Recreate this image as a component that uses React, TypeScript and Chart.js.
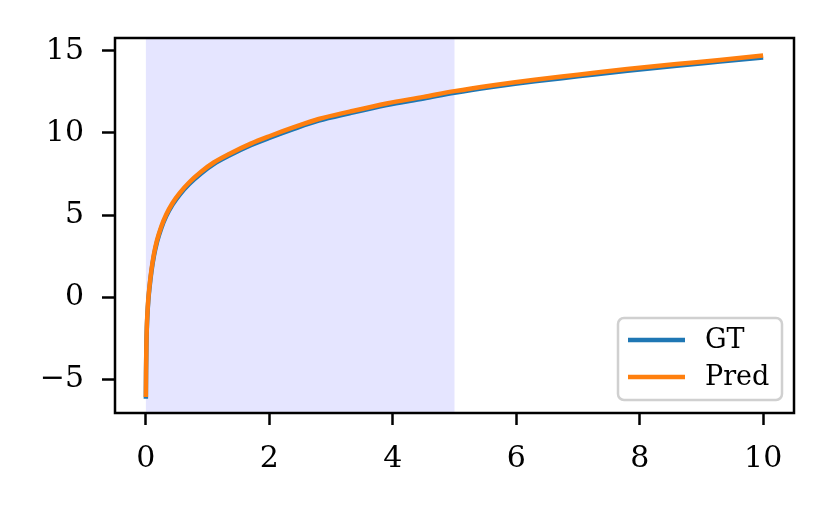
import React, { useEffect, useRef } from "react";
import { Chart, registerables } from "chart.js";

Chart.register(...registerables);

const seriesNames = ["GT", "Pred"];
const seriesColors = ["#1f77b4", "#ff7f0e"];

const xValues = [
  0, 0.003, 0.008, 0.015, 0.025, 0.04, 0.06, 0.09, 0.13, 0.18, 0.25, 0.33, 0.43,
  0.55, 0.7, 0.9, 1.1, 1.35, 1.7, 2.0, 2.4, 2.8, 3.3, 3.9, 4.5, 5.0, 5.6, 6.3,
  7.0, 7.8, 8.6, 9.3, 10.0,
];
const gtValues = [
  -6.2, -4.6, -3.1, -2.0, -1.1, -0.2, 0.6, 1.55, 2.5, 3.35, 4.2, 4.93, 5.62, 6.25,
  6.88, 7.55, 8.1, 8.62, 9.25, 9.7, 10.25, 10.75, 11.2, 11.7, 12.1, 12.45, 12.8,
  13.15, 13.45, 13.8, 14.1, 14.35, 14.6,
];
const predValues = [
  -6.1, -4.5, -3.0, -1.9, -1.0, -0.1, 0.7, 1.65, 2.6, 3.45, 4.3, 5.03, 5.72, 6.35,
  6.98, 7.65, 8.2, 8.72, 9.35, 9.8, 10.35, 10.85, 11.3, 11.8, 12.2, 12.55, 12.9,
  13.25, 13.55, 13.9, 14.2, 14.45, 14.72,
];

const xTicks = [0, 2, 4, 6, 8, 10];
const yTicks = [-5, 0, 5, 10, 15];
const shadeRange = [0, 5];

const FONT = "'DejaVu Serif', serif";

const fmt = (v: number) => (v < 0 ? "\u2212" + Math.abs(v) : String(v));

const decorPlugin = {
  id: "decor",
  beforeDatasetsDraw(chart: any) {
    const { ctx, chartArea, scales } = chart;
    const x0 = scales.x.getPixelForValue(shadeRange[0]);
    const x1 = scales.x.getPixelForValue(shadeRange[1]);
    ctx.save();
    ctx.fillStyle = "rgba(0,0,255,0.1)";
    ctx.fillRect(x0, chartArea.top, x1 - x0, chartArea.bottom - chartArea.top);
    ctx.restore();
  },
  afterDatasetsDraw(chart: any) {
    const { ctx, chartArea } = chart;
    ctx.save();
    ctx.strokeStyle = "#000";
    ctx.lineWidth = 2.5;
    ctx.strokeRect(
      chartArea.left,
      chartArea.top,
      chartArea.right - chartArea.left,
      chartArea.bottom - chartArea.top
    );
    ctx.restore();
  },
  afterDraw(chart: any) {
    const { ctx, chartArea } = chart;
    const w = 164;
    const h = 82;
    const bx = chartArea.right - 12 - w;
    const by = chartArea.bottom - 13 - h;
    ctx.save();
    ctx.beginPath();
    ctx.roundRect(bx, by, w, h, 6);
    ctx.fillStyle = "rgba(255,255,255,0.8)";
    ctx.fill();
    ctx.strokeStyle = "#d0d0d0";
    ctx.lineWidth = 2.5;
    ctx.stroke();
    ctx.font = `27px ${FONT}`;
    ctx.textBaseline = "middle";
    ctx.textAlign = "left";
    seriesNames.forEach((name, i) => {
      const y = by + 22 + i * 37;
      ctx.beginPath();
      ctx.moveTo(bx + 10, y);
      ctx.lineTo(bx + 67, y);
      ctx.strokeStyle = seriesColors[i];
      ctx.lineWidth = 4.5;
      ctx.stroke();
      ctx.fillStyle = "#000";
      ctx.fillText(name, bx + 87, y + 1);
    });
    ctx.restore();
  },
};

export default function App() {
  const ref = useRef<HTMLCanvasElement>(null);
  useEffect(() => {
    if (!ref.current) return;
    const chart = new Chart(ref.current, {
      type: "line",
      data: {
        datasets: [
          {
            label: seriesNames[0],
            data: xValues.map((x, i) => ({ x, y: gtValues[i] })),
            borderColor: seriesColors[0],
            borderWidth: 4.5,
            pointRadius: 0,
            fill: false,
            order: 2,
            cubicInterpolationMode: "monotone",
          },
          {
            label: seriesNames[1],
            data: xValues.map((x, i) => ({ x, y: predValues[i] })),
            borderColor: seriesColors[1],
            borderWidth: 4.5,
            pointRadius: 0,
            fill: false,
            order: 1,
            cubicInterpolationMode: "monotone",
          },
        ],
      },
      options: {
        responsive: false,
        animation: false,
        devicePixelRatio: 1,
        layout: { padding: { left: 0, right: 37, top: 38, bottom: 0 } },
        plugins: { legend: { display: false }, tooltip: { enabled: false } },
        scales: {
          x: {
            type: "linear",
            min: -0.5,
            max: 10.5,
            afterBuildTicks: (s: any) => {
              s.ticks = xTicks.map((v) => ({ value: v }));
            },
            afterFit: (s: any) => {
              s.height = 101;
            },
            grid: {
              drawOnChartArea: false,
              drawTicks: true,
              tickLength: 12,
              tickWidth: 2.5,
              tickColor: "#000",
            },
            border: { display: false },
            ticks: {
              color: "#000",
              font: { family: FONT, size: 30 },
              padding: 16,
              maxRotation: 0,
              callback: (v: any) => fmt(Number(v)),
            },
          },
          y: {
            type: "linear",
            min: -7.07,
            max: 15.79,
            afterBuildTicks: (s: any) => {
              s.ticks = yTicks.map((v) => ({ value: v }));
            },
            afterFit: (s: any) => {
              s.width = 115;
            },
            grid: {
              drawOnChartArea: false,
              drawTicks: true,
              tickLength: 13,
              tickWidth: 2.5,
              tickColor: "#000",
            },
            border: { display: false },
            ticks: {
              color: "#000",
              font: { family: FONT, size: 30 },
              padding: 18,
              callback: (v: any) => fmt(Number(v)),
            },
          },
        },
      },
      plugins: [decorPlugin],
    } as any);
    return () => chart.destroy();
  }, []);
  return (
    <div style={{ position: "absolute", left: 0, top: 0, width: 831, height: 514, background: "#fff" }}>
      <canvas ref={ref} width={831} height={514} />
    </div>
  );
}
